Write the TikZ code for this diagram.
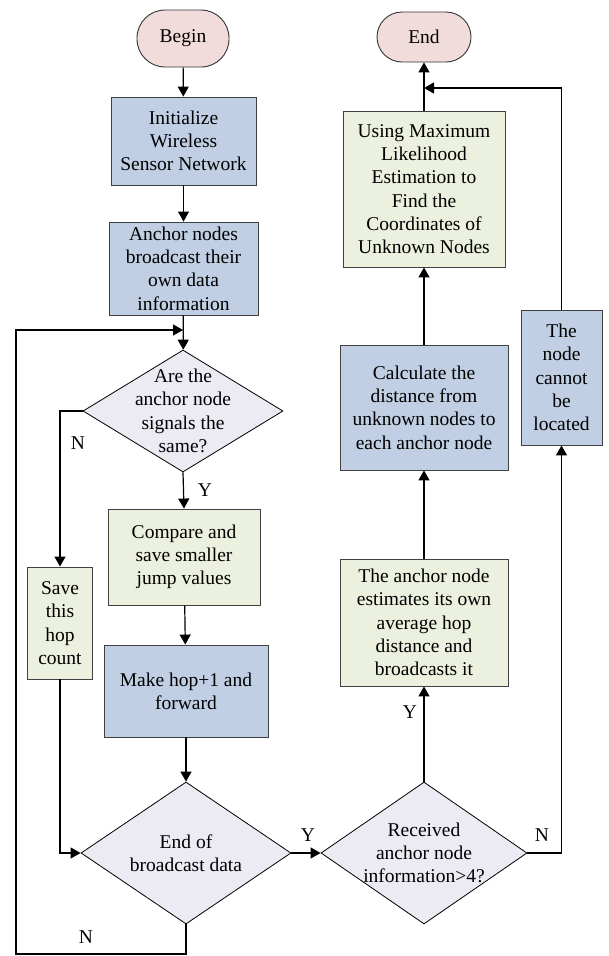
\documentclass[tikz,border=0pt]{standalone}
\usepackage{fontspec}
\setmainfont{Liberation Serif}
\usetikzlibrary{shapes.geometric,arrows.meta}
\definecolor{termfill}{HTML}{F2DCDB}
\definecolor{procblue}{HTML}{C0CFE3}
\definecolor{procgreen}{HTML}{EBF1DE}
\definecolor{decfill}{HTML}{ECEAF2}
\begin{document}
\begin{tikzpicture}[x=1pt,y=-1pt,
  every node/.style={font=\fontsize{19.5}{23.3}\selectfont, inner sep=0pt, align=center},
  term/.style={draw=black!80, fill=termfill, line width=0.9pt},
  bluebox/.style={draw=black!75, fill=procblue, line width=0.9pt},
  greenbox/.style={draw=black!75, fill=procgreen, line width=0.9pt},
  decision/.style={shape=diamond, draw=black, fill=decfill, line width=0.8pt},
  arr/.style={line width=1.2pt, -{Triangle[length=10pt,width=11pt]}},
  plain/.style={line width=1.2pt},
  yn/.style={font=\fontsize{19.5}{23.3}\selectfont}
]
\useasboundingbox (0,0) rectangle (608,956);

% left column
\node[term, rounded corners=28pt, minimum width=92pt, minimum height=57pt] (begin) at (183,38.5) {Begin};
\node[bluebox, minimum width=145pt, minimum height=88pt] (init) at (183.5,141) {Initialize\\Wireless\\Sensor Network};
\node[bluebox, minimum width=149pt, minimum height=93pt] (bcast) at (183.5,268.5) {Anchor nodes\\broadcast their\\own data\\information};
\node[decision, minimum width=200pt, minimum height=122pt,
      label={center:{Are the\\anchor node\\signals the\\same?}}] (d1) at (183,411) {};
\node[greenbox, minimum width=152pt, minimum height=96pt] (cmp) at (184,557) {Compare and\\save smaller\\jump values};
\node[greenbox, minimum width=65pt, minimum height=112pt] (save) at (60,623) {Save\\this\\hop\\count};
\node[bluebox, minimum width=164pt, minimum height=92pt] (hop) at (186,691) {Make hop+1 and\\forward};
\node[decision, minimum width=210pt, minimum height=142pt,
      label={center:{End of\\broadcast data}}] (d2) at (186,853) {};

% right column
\node[decision, minimum width=206pt, minimum height=142pt,
      label={center:{Received\\anchor node\\information>4?}}] (d3) at (424,853) {};
\node[greenbox, minimum width=168pt, minimum height=127pt] (est) at (424,622.5) {The anchor node\\estimates its own\\average hop\\distance and\\broadcasts it};
\node[bluebox, minimum width=168pt, minimum height=125pt] (calc) at (424,407.5) {Calculate the\\distance from\\unknown nodes to\\each anchor node};
\node[greenbox, minimum width=162pt, minimum height=156pt] (mle) at (424,189) {Using Maximum\\Likelihood\\Estimation to\\Find the\\Coordinates of\\Unknown Nodes};
\node[term, rounded corners=25pt, minimum width=94pt, minimum height=50pt] (end) at (424,37) {End};
\node[bluebox, minimum width=81pt, minimum height=135pt] (cannot) at (561.5,377.5) {The\\node\\cannot\\be\\located};

% junction points of the loops
\coordinate (join) at (183,330);
\coordinate (loopbl) at (16,954);
\coordinate (merge) at (424,88);

% connectors
\draw[arr] (begin) -- (init);
\draw[arr] (init) -- (bcast);
\draw[arr] (bcast) -- (d1);
\draw[arr] (d1.west) -| (save.north);
\draw[arr] (d1.south) -- (cmp.north);
\draw[arr] (cmp) -- (hop);
\draw[arr] (hop) -- (d2);
\draw[arr] (save.south) |- (d2.west);
\draw[arr] (d2.east) -- (d3.west);
\draw[arr] (d2.south) |- (loopbl) |- (join);
\draw[arr] (d3.north) -- (est.south);
\draw[arr] (est) -- (calc);
\draw[arr] (calc) -- (mle);
\draw[arr] (mle) -- (end);
\draw[arr] (d3.east) -| (cannot.south);
\draw[arr] (cannot.north) |- (merge);

% branch labels
\node[yn] (n1) at (78,443) {N};
\node[yn] (y1) at (205,490) {Y};
\node[yn] (y2) at (308,835) {Y};
\node[yn] (n2) at (86,937) {N};
\node[yn] (y3) at (410,712) {Y};
\node[yn] (n3) at (542,835) {N};
\end{tikzpicture}
\end{document}
